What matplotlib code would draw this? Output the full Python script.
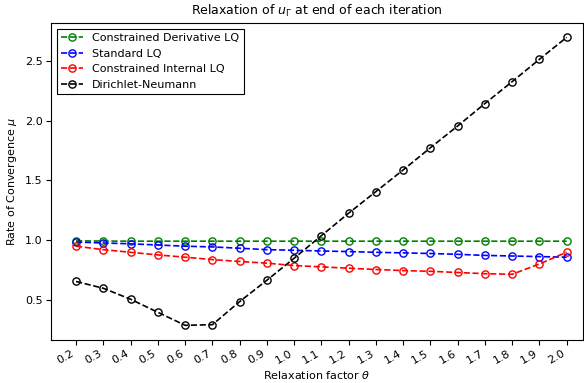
import matplotlib
matplotlib.use("Agg")
import matplotlib.pyplot as plt
import numpy as np

theta = [0.2, 0.3, 0.4, 0.5, 0.6, 0.7, 0.8, 0.9, 1.0, 1.1,
         1.2, 1.3, 1.4, 1.5, 1.6, 1.7, 1.8, 1.9, 2.0]
tick_labels = ["0.2", "0.3", "0.4", "0.5", "0.6", "0.7", "0.8", "0.9", "1.0", "1.1",
               "1.2", "1.3", "1.4", "1.5", "1.6", "1.7", "1.8", "1.9", "2.0"]

constrained_derivative = [0.995, 0.993, 0.992, 0.992, 0.992, 0.992, 0.992, 0.992, 0.992, 0.992,
                          0.992, 0.992, 0.992, 0.992, 0.992, 0.992, 0.992, 0.992, 0.992]
standard_lq = [0.985, 0.977, 0.970, 0.960, 0.950, 0.944, 0.933, 0.921, 0.916, 0.910,
               0.905, 0.899, 0.894, 0.889, 0.882, 0.873, 0.868, 0.863, 0.858]
constrained_internal = [0.950, 0.921, 0.899, 0.877, 0.858, 0.838, 0.822, 0.808, 0.788, 0.777,
                        0.766, 0.755, 0.746, 0.740, 0.730, 0.720, 0.715, 0.801, 0.900]
dirichlet_neumann = [0.655, 0.598, 0.506, 0.397, 0.288, 0.293, 0.486, 0.665, 0.849, 1.038,
                     1.226, 1.407, 1.588, 1.774, 1.956, 2.144, 2.327, 2.514, 2.698]

series = [
    ("Constrained Derivative LQ", constrained_derivative, "green"),
    ("Standard LQ", standard_lq, "blue"),
    ("Constrained Internal LQ", constrained_internal, "red"),
    ("Dirichlet-Neumann", dirichlet_neumann, "black"),
]

fig = plt.figure(figsize=(5.84, 3.83), dpi=100)
ax = fig.add_axes([51/584, 1 - 340/383, (583-51)/584, (340-23)/383])

for label, vals, color in series:
    ax.plot(theta, vals, linestyle="--", marker="o", color=color,
            markerfacecolor="none", markersize=5.2, linewidth=1.2, label=label)

ax.set_xticks(theta)
ax.set_xticklabels(tick_labels, rotation=30, ha="right", fontsize=8)
ax.tick_params(axis="both", labelsize=8, pad=2.5)
ax.set_yticks([0.5, 1.0, 1.5, 2.0, 2.5])
ax.set_xlim(0.108, 2.06)
ax.set_ylim(0.165, 2.818)
ax.set_xlabel(r"Relaxation factor $\theta$", fontsize=8, labelpad=2)
ax.set_ylabel(r"Rate of Convergence $\mu$", fontsize=8)
ax.set_title(r"Relaxation of $u_\Gamma$ at end of each iteration", fontsize=9)
leg = ax.legend(loc="upper left", fontsize=8, fancybox=False, edgecolor="black",
                framealpha=1)
leg.get_frame().set_linewidth(0.8)

fig.savefig("out.png", dpi=100)
